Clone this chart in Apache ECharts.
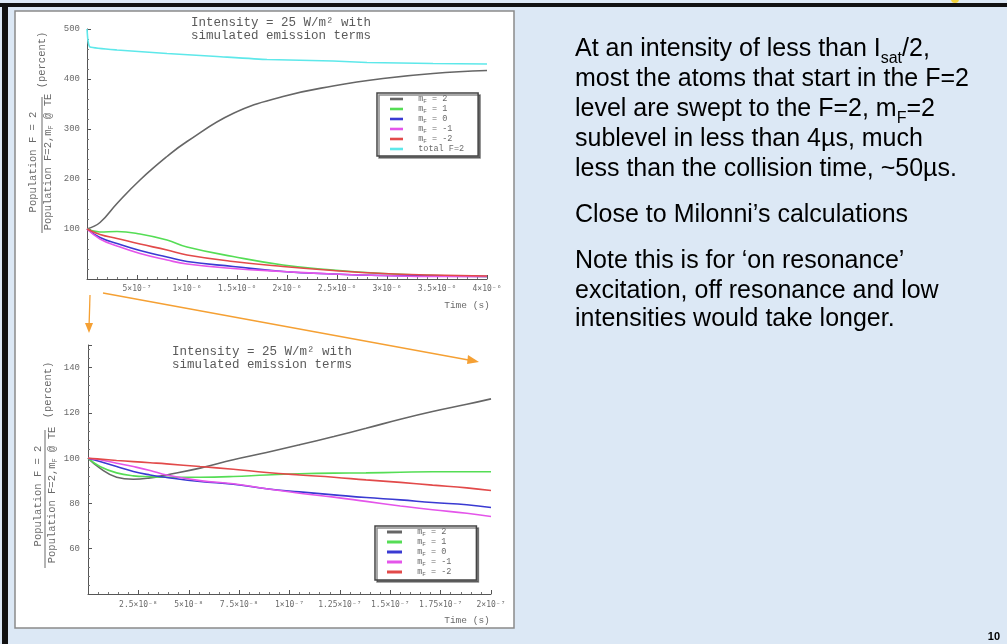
<!DOCTYPE html>
<html><head><meta charset="utf-8">
<script src="https://cdn.jsdelivr.net/npm/echarts@6/dist/echarts.min.js"></script>
<style>html,body{margin:0;padding:0;background:#dce8f5}#c{width:1007px;height:644px}</style>
</head><body><div id="c"></div>
<script>
// ---- data (top chart: time in units of 1e-7 s) ----
const topTime   = [0, 1.3, 3.0, 5.3, 8.0, 10.0, 14.6, 19.6, 24.6, 29.6, 34.6, 40];
const topM2     = [100, 113, 151, 198, 245, 275, 331, 365, 386, 401, 411, 417];
const topM1     = [100, 94, 95, 90, 78, 64, 45, 28, 18, 11, 7, 5];
const topM0     = [100, 83, 71, 57, 44, 35, 25, 15, 10, 7, 6, 5];
const topMm1    = [100, 80, 66, 51, 38, 30, 21, 15, 10, 7, 5, 5];
const topMm2    = [100, 89, 81, 70, 58, 48, 35, 25, 17, 11, 8, 6];
const totalTime = [0, 0.1, 0.3, 3.0, 8.0, 13.0, 18.0, 24.6, 28.0, 34.6, 40];
const totalF2   = [500, 476, 464, 458, 451, 445, 439, 436, 433, 431, 430];
// ---- data (bottom chart: time in units of 1e-8 s) ----
const botTime = [0, 0.59, 1.42, 2.25, 3.08, 3.90, 5.56, 7.21, 8.86, 10.5, 12.2, 13.8, 15.5, 17.1, 18.8, 20];
const botM2   = [100, 95.6, 91.6, 90.7, 91.3, 92.6, 95.6, 99.3, 102.5, 105.9, 109.6, 113.2, 117.2, 120.6, 123.8, 126.2];
const botM1   = [100, 96.3, 93.5, 92.2, 91.8, 91.6, 91.6, 91.9, 92.6, 93.1, 93.4, 93.5, 93.8, 94.0, 94.0, 94.0];
const botM0   = [100, 98.5, 96.3, 94.1, 92.6, 91.5, 89.7, 88.5, 86.5, 85.1, 83.8, 82.6, 81.6, 80.4, 79.4, 78.2];
const botMm1  = [100, 99.3, 97.8, 96.3, 94.6, 92.6, 90.1, 88.7, 86.5, 84.5, 82.8, 80.9, 78.9, 77.2, 75.7, 74.2];
const botMm2  = [100, 99.6, 99.0, 98.5, 98.0, 97.5, 96.3, 95.1, 93.7, 92.6, 91.6, 90.4, 89.3, 88.1, 86.9, 85.7];
// ---- names & tick labels ----
const seriesNames = ['m_F = 2', 'm_F = 1', 'm_F = 0', 'm_F = -1', 'm_F = -2', 'total F=2'];
const seriesColors = ['#666666', '#55dd55', '#3a3ad2', '#e455ea', '#e24a4a', '#5ee8ea'];
const topXLabels = ['5\u00d710\u207b\u2077', '1\u00d710\u207b\u2076', '1.5\u00d710\u207b\u2076', '2\u00d710\u207b\u2076',
                    '2.5\u00d710\u207b\u2076', '3\u00d710\u207b\u2076', '3.5\u00d710\u207b\u2076', '4\u00d710\u207b\u2076'];
const botXLabels = ['2.5\u00d710\u207b\u2078', '5\u00d710\u207b\u2078', '7.5\u00d710\u207b\u2078', '1\u00d710\u207b\u2077',
                    '1.25\u00d710\u207b\u2077', '1.5\u00d710\u207b\u2077', '1.75\u00d710\u207b\u2077', '2\u00d710\u207b\u2077'];
const topYLabels = [100, 200, 300, 400, 500];
const botYLabels = [60, 80, 100, 120, 140];
const chartTitle = ['Intensity = 25 W/m\u00b2 with', 'simulated emission terms'];

const mono = '"Liberation Mono","DejaVu Sans Mono",monospace';
const dmono = '"DejaVu Sans Mono","Liberation Mono",monospace';
const sans = '"Liberation Sans",Arial,sans-serif';
const gray = '#6a6a6a';

function pairs(t, v) { return t.map((x, i) => [x, v[i]]); }

const chart = echarts.init(document.getElementById('c'), null, {renderer: 'canvas'});

function xFmt(labels, step) {
  return function (v) {
    const r = v / step, i = Math.round(r) - 1;
    if (i < 0 || i >= labels.length || Math.abs(r - Math.round(r)) > 1e-6) return '';
    return labels[i];
  };
}
function yFmt(labels) {
  return function (v) { return labels.indexOf(Math.round(v)) >= 0 ? String(Math.round(v)) : ''; };
}

function axisCommon() {
  return {
    axisLine: {lineStyle: {color: '#555', width: 1}},
    axisTick: {inside: true, length: 4, lineStyle: {color: '#555'}},
    minorTick: {show: true, splitNumber: 5, length: 2, lineStyle: {color: '#777'}},
    splitLine: {show: false},
    minorSplitLine: {show: false}
  };
}

const legendRich = {
  n: {fontFamily: mono, fontSize: 8.5, color: gray, lineHeight: 10, verticalAlign: 'top'},
  s: {fontFamily: mono, fontSize: 6, color: gray, lineHeight: 6, verticalAlign: 'bottom'}
};
function legendFmt(name) {
  if (name.indexOf('m_F') === 0) return '{n|  m}{s|F}{n|' + name.slice(3) + '}';
  return '{n|  ' + name + '}';
}

function mkLine(name, data, xi, color, sm) {
  return {
    name: name, type: 'line', xAxisIndex: xi, yAxisIndex: xi, data: data,
    showSymbol: false, symbol: 'none', smooth: sm,
    lineStyle: {color: color, width: 1.6}, itemStyle: {color: color}, emphasis: {disabled: true}
  };
}

const topVals = [topM2, topM1, topM0, topMm1, topMm2];
const botVals = [botM2, botM1, botM0, botMm1, botMm2];
const series = [];
topVals.forEach((v, i) => series.push(mkLine(seriesNames[i], pairs(topTime, v), 0, seriesColors[i], 0.45)));
series.push(mkLine(seriesNames[5], pairs(totalTime, totalF2), 0, seriesColors[5], 0.15));
botVals.forEach((v, i) => series.push(mkLine(seriesNames[i], pairs(botTime, v), 1, seriesColors[i], 0.45)));

function txt(x, y, text, opts) {
  return Object.assign({type: 'text', x: x, y: y, z: 20, silent: true,
    style: Object.assign({text: text, fill: gray, font: '10px ' + mono, align: 'center', verticalAlign: 'middle'}, opts || {})});
}
function vtxt(x, y, text, opts) {
  const t = txt(x, y, text, opts); t.rotation = Math.PI / 2; return t;
}

const bodyRich = {
  sub: {fontFamily: sans, fontSize: 16, fill: '#000', lineHeight: 16, verticalAlign: 'bottom'},
  n: {fontFamily: sans, fontSize: 25, fill: '#000', lineHeight: 30, verticalAlign: 'top'}
};
function body(y, text) {
  return {type: 'text', x: 575, y: y + 4, z: 20, silent: true,
    style: {text: text, rich: bodyRich, fill: '#000', font: '25px ' + sans, align: 'left', verticalAlign: 'middle'}};
}
const axisRich = {
  n: {fontFamily: mono, fontSize: 10.5, fill: gray, lineHeight: 12, verticalAlign: 'top'},
  s: {fontFamily: mono, fontSize: 7, fill: gray, lineHeight: 7, verticalAlign: 'bottom'}
};

const orange = '#f5a033';
const graphic = [
  {type: 'rect', z: -10, shape: {x: 15, y: 11, width: 499, height: 617}, style: {fill: '#fff', stroke: '#8a8a8a', lineWidth: 1.5}},
  {type: 'rect', z: -10, shape: {x: 0, y: 3, width: 1007, height: 4}, style: {fill: '#111'}},
  {type: 'rect', z: -10, shape: {x: 2, y: 3, width: 6, height: 641}, style: {fill: '#111'}},
  {type: 'circle', z: -11, shape: {cx: 955, cy: -1, r: 4}, style: {fill: '#f2d23a'}},
  // titles
  txt(281, 23, chartTitle[0], {font: '12.5px ' + mono, fill: '#5a5a5a'}),
  txt(281, 36, chartTitle[1], {font: '12.5px ' + mono, fill: '#5a5a5a'}),
  txt(262, 352, chartTitle[0], {font: '12.5px ' + mono, fill: '#5a5a5a'}),
  txt(262, 365, chartTitle[1], {font: '12.5px ' + mono, fill: '#5a5a5a'}),
  // time labels
  txt(467, 305, 'Time (s)', {font: '9.5px ' + mono}),
  txt(467, 620, 'Time (s)', {font: '9.5px ' + mono}),
  // y names top
  vtxt(33, 162, 'Population F = 2', {font: '10.5px ' + mono}),
  {type: 'line', z: 20, shape: {x1: 42, y1: 97, x2: 42, y2: 233}, style: {stroke: gray, lineWidth: 1}},
  vtxt(49, 162, '{n|Population F=2,m}{s|F}{n| @ TE}', {rich: axisRich}),
  vtxt(42, 60, '(percent)', {font: '10.5px ' + mono}),
  // y names bottom
  vtxt(38, 496, 'Population F = 2', {font: '10.5px ' + mono}),
  {type: 'line', z: 20, shape: {x1: 45, y1: 430, x2: 45, y2: 568}, style: {stroke: gray, lineWidth: 1}},
  vtxt(53, 495, '{n|Population F=2,m}{s|F}{n| @ TE}', {rich: axisRich}),
  vtxt(48, 390, '(percent)', {font: '10.5px ' + mono}),
  // arrows
  {type: 'line', z: 20, shape: {x1: 90, y1: 295, x2: 89, y2: 328}, style: {stroke: orange, lineWidth: 1.3}},
  {type: 'polygon', z: 20, shape: {points: [[85, 323], [93, 323], [89, 333]]}, style: {fill: orange}},
  {type: 'line', z: 20, shape: {x1: 103, y1: 293, x2: 474, y2: 361}, style: {stroke: orange, lineWidth: 1.3}},
  {type: 'polygon', z: 20, shape: {points: [[479, 362], [468, 355], [467, 364]]}, style: {fill: orange}},
  // body text
  body(48, '{n|At an intensity of less than I}{sub|sat}{n|/2,}'),
  body(78, '{n|most the atoms that start in the F=2}'),
  body(108, '{n|level are swept to the F=2, m}{sub|F}{n|=2}'),
  body(138, '{n|sublevel in less than 4\u00b5s, much}'),
  body(168, '{n|less than the collision time, ~50\u00b5s.}'),
  body(214, '{n|Close to Milonni\u2019s calculations}'),
  body(260, '{n|Note this is for \u2018on resonance\u2019}'),
  body(290, '{n|excitation, off resonance and low}'),
  body(318, '{n|intensities would take longer.}'),
  {type: 'text', x: 1000, y: 637, z: 20, silent: true, style: {text: '10', font: 'bold 11px ' + sans, fill: '#000', align: 'right', verticalAlign: 'middle'}}
];

const option = {
  backgroundColor: '#dce8f5',
  animation: false,
  grid: [
    {left: 87, right: 520, top: 29, bottom: 365, outerBoundsMode: 'none'},
    {left: 88, right: 516, top: 345, bottom: 50, outerBoundsMode: 'none'}
  ],
  xAxis: [
    Object.assign(axisCommon(), {gridIndex: 0, type: 'value', min: 0, max: 40, interval: 5,
      axisLabel: {margin: 6, showMinLabel: false, fontFamily: dmono, fontSize: 8, color: gray, formatter: xFmt(topXLabels, 5)}}),
    Object.assign(axisCommon(), {gridIndex: 1, type: 'value', min: 0, max: 20, interval: 2.5,
      axisLabel: {margin: 7, showMinLabel: false, fontFamily: dmono, fontSize: 8, color: gray, formatter: xFmt(botXLabels, 2.5)}})
  ],
  yAxis: [
    Object.assign(axisCommon(), {gridIndex: 0, type: 'value', min: 0, max: 500, interval: 100,
      axisLabel: {margin: 7, fontFamily: mono, fontSize: 9, color: gray, formatter: yFmt(topYLabels)}}),
    Object.assign(axisCommon(), {gridIndex: 1, type: 'value', min: 40, max: 150, interval: 20,
      axisLabel: {margin: 8, fontFamily: mono, fontSize: 9, color: gray, showMaxLabel: false, formatter: yFmt(botYLabels)}})
  ],
  legend: [
    {data: seriesNames, orient: 'vertical', left: 377, top: 93, itemGap: 0, itemWidth: 13, itemHeight: 9.6,
      padding: [1, 14, 2, 13], backgroundColor: '#fff', borderColor: '#444', borderWidth: 1.5,
      shadowColor: 'rgba(0,0,0,0.45)', shadowOffsetX: 2, shadowOffsetY: 2, shadowBlur: 0,
      selectedMode: false, formatter: legendFmt, textStyle: {rich: legendRich, lineHeight: 9.6, padding: 0},
      icon: 'path://M0,0L10,0L10,2L0,2Z'},
    {data: seriesNames.slice(0, 5), orient: 'vertical', left: 375, top: 526, itemGap: 0, itemWidth: 15, itemHeight: 11.3,
      padding: [1, 25, 3, 12], backgroundColor: '#fff', borderColor: '#444', borderWidth: 1.5,
      shadowColor: 'rgba(0,0,0,0.45)', shadowOffsetX: 2, shadowOffsetY: 2, shadowBlur: 0,
      selectedMode: false, formatter: legendFmt, textStyle: {rich: legendRich, lineHeight: 11.3, padding: 0},
      icon: 'path://M0,0L10,0L10,2L0,2Z'}
  ],
  graphic: graphic,
  series: series
};
chart.setOption(option);
</script>
</body></html>
